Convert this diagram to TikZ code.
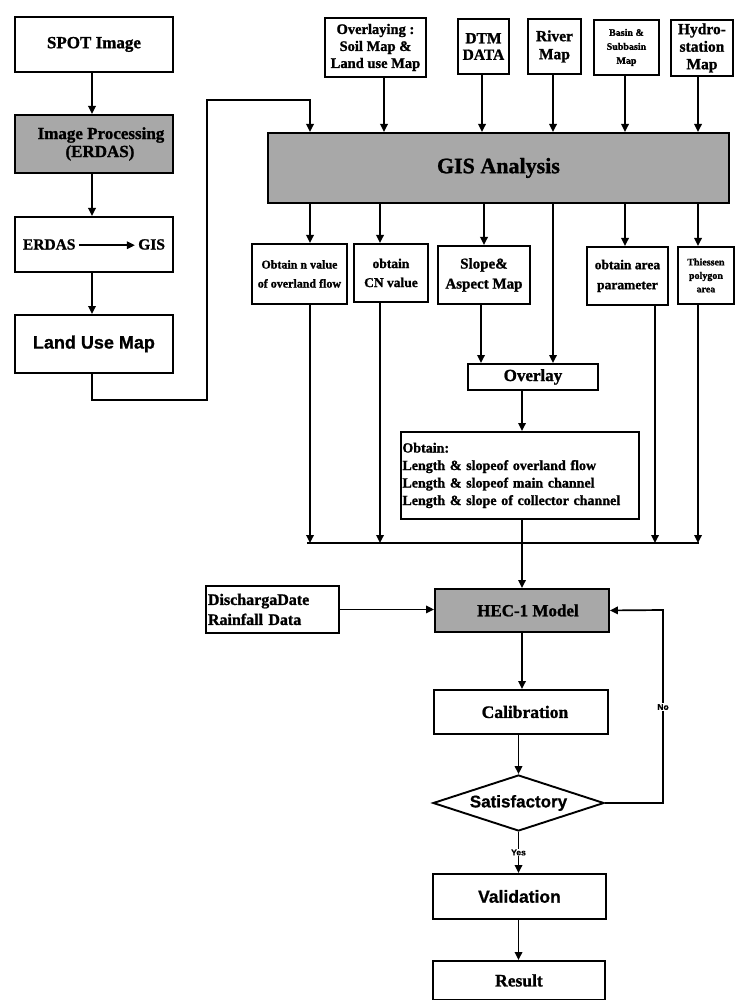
\documentclass[tikz,border=0pt]{standalone}
\usepackage{fontspec}
\setmainfont{Liberation Serif}[BoldFeatures={FakeBold=1.2}]
\newfontfamily\sansb{Liberation Sans}[BoldFeatures={FakeBold=0.8}]
\usetikzlibrary{arrows.meta,shapes.geometric}
\definecolor{shadegray}{RGB}{168,168,168}
\newcommand\fsz[2]{\fontsize{#1}{#2}\selectfont}
\begin{document}
\begin{tikzpicture}[x=1pt,y=-1pt,
  box/.style={draw, line width=1.9pt, inner sep=0pt, align=center, anchor=north west},
  shaded/.style={fill=shadegray},
  arr/.style={line width=1.7pt, -{Triangle[length=8pt,width=7.5pt]}},
  ln/.style={line width=1.7pt},
  lab/.style={fill=white, inner sep=1pt, font=\sansb\bfseries\fsz{8.5}{9}}]
\useasboundingbox (0,0) rectangle (739,1000);
\fill[white] (0,0) rectangle (739,1000);

% left column
\node[box, minimum width=158pt, minimum height=55pt, font=\bfseries\fsz{17}{19}] (spot) at (14,16) {SPOT Image};
\node[box, shaded, minimum width=158pt, minimum height=58pt, font=\bfseries\fsz{17}{18}] (improc) at (14,114) {\hspace*{14pt}Image Processing\\\hspace*{12pt}(ERDAS)};
\node[box, minimum width=158pt, minimum height=55pt, font=\bfseries\fsz{15.5}{18}] (erdas) at (14,216)
  {ERDAS\,\tikz[baseline=-0.6ex]\draw[line width=1.6pt,-{Triangle[length=8pt,width=7.5pt]}] (0pt,0pt)--(56pt,0pt);\,GIS};
\node[box, minimum width=158pt, minimum height=58pt, font=\sansb\bfseries\fsz{18}{20}] (landuse) at (14,314) {Land Use Map};

% top inputs
\node[box, minimum width=101pt, minimum height=59pt, font=\bfseries\fsz{14.5}{17}] (ovl) at (324,17) {Overlaying :\\Soil Map \&\\Land use Map};
\node[box, minimum width=51pt, minimum height=55pt, font=\bfseries\fsz{15.5}{16.5}] (dtm) at (457,18) {DTM\\DATA};
\node[box, minimum width=53pt, minimum height=55pt, font=\bfseries\fsz{15.5}{18}] (river) at (527,18) {River\\Map};
\node[box, minimum width=65pt, minimum height=55pt, font=\bfseries\fsz{10}{14}] (basin) at (593,19) {Basin \&\\Subbasin\\Map};
\node[box, minimum width=62pt, minimum height=56pt, font=\bfseries\fsz{15.5}{17.5}] (hydro) at (670,19) {Hydro-\\station\\Map};

% GIS
\node[box, shaded, minimum width=461pt, minimum height=70pt, font=\bfseries\fsz{22}{24}] (gis) at (267,132) {GIS Analysis};

% outputs
\node[box, minimum width=95pt, minimum height=60pt, font=\bfseries\fsz{12}{19}] (nval) at (251,243) {Obtain n value\\of overland flow};
\node[box, minimum width=74pt, minimum height=58pt, font=\bfseries\fsz{13.5}{19}] (cn) at (353,243) {obtain\\CN value};
\node[box, minimum width=92pt, minimum height=58pt, font=\bfseries\fsz{15}{20}] (slope) at (437,245) {Slope\&\\Aspect Map};
\node[box, minimum width=81pt, minimum height=58pt, font=\bfseries\fsz{13.5}{20}] (area) at (586,246) {obtain area\\parameter};
\node[box, minimum width=56pt, minimum height=57pt, font=\bfseries\fsz{10}{13.5}] (thiess) at (677,246) {Thiessen\\polygon\\area};

\node[box, minimum width=130pt, minimum height=26pt, font=\bfseries\fsz{17}{17}] (overlay) at (467,363) {Overlay};
\node[box, minimum width=238pt, minimum height=87pt, text width=235pt, inner xsep=1.5pt, align=left, font=\bfseries\fsz{14}{17.5}] (obtain) at (400,431)
  {Obtain:\\Length \& slopeof overland flow\\Length \& slopeof main channel\\Length \& slope of collector channel};

% lower part
\node[box, minimum width=132pt, minimum height=47pt, text width=129pt, inner xsep=2pt, align=left, font=\bfseries\fsz{16}{20}] (dis) at (205,585) {DischargaDate\\Rainfall Data};
\node[box, shaded, minimum width=174pt, minimum height=43pt, font=\bfseries\fsz{17}{19}] (hec) at (434,588) {\hspace*{12pt}HEC-1 Model};
\node[box, minimum width=174pt, minimum height=44pt, font=\bfseries\fsz{17.5}{19}] (cal) at (433,689) {\hspace*{8pt}Calibration};
\node[draw, line width=1.9pt, diamond, aspect=3, inner sep=0pt, minimum width=171pt, minimum height=56pt, font=\sansb\bfseries\fsz{17}{19}] (dia) at (518.5,803) {Satisfactory};
\node[box, minimum width=173pt, minimum height=45pt, font=\sansb\bfseries\fsz{17.5}{19}] (val) at (432,873) {Validation};
\node[box, minimum width=172pt, minimum height=39pt, font=\bfseries\fsz{17.5}{19}] (res) at (432,960) {Result};

% column coordinates
\coordinate (c1) at (92,0);
\coordinate (xl) at (310,0);
\coordinate (xcn) at (380,0);
\coordinate (xov) at (384,0);
\coordinate (xdtm) at (482,0);
\coordinate (xsl) at (484,0);
\coordinate (xslo) at (481,0);
\coordinate (xr) at (553,0);
\coordinate (xb) at (625,0);
\coordinate (xao) at (655,0);
\coordinate (xh) at (698,0);
\coordinate (xm) at (522,0);
\coordinate (lp1) at (207,400);
\coordinate (lp2) at (310,100);
\coordinate (bus) at (0,543);
\coordinate (busL) at (307,543);
\coordinate (busR) at (699,543);
\coordinate (noc) at (663,610);

% left column arrows
\draw[arr] (spot.south -| c1) -- (improc.north -| c1);
\draw[arr] (improc.south -| c1) -- (erdas.north -| c1);
\draw[arr] (erdas.south -| c1) -- (landuse.north -| c1);
\draw[arr] (landuse.south -| c1) |- (lp1) |- (lp2) -- (gis.north -| lp2);

% inputs to GIS
\draw[arr] (ovl.south -| xov) -- (gis.north -| xov);
\draw[arr] (dtm.south -| xdtm) -- (gis.north -| xdtm);
\draw[arr] (river.south -| xr) -- (gis.north -| xr);
\draw[arr] (basin.south -| xb) -- (gis.north -| xb);
\draw[arr] (hydro.south -| xh) -- (gis.north -| xh);

% outputs of GIS
\draw[arr] (gis.south -| xl) -- (nval.north -| xl);
\draw[arr] (gis.south -| xcn) -- (cn.north -| xcn);
\draw[arr] (gis.south -| xsl) -- (slope.north -| xsl);
\draw[arr] (gis.south -| xr) -- (overlay.north -| xr);
\draw[arr] (gis.south -| xb) -- (area.north -| xb);
\draw[arr] (gis.south -| xh) -- (thiess.north -| xh);

\draw[arr] (slope.south -| xslo) -- (overlay.north -| xslo);
\draw[arr] (overlay.south -| xm) -- (obtain.north -| xm);

% collector
\draw[ln] (busL) -- (busR);
\draw[arr] (nval.south -| xl) -- (xl |- bus);
\draw[arr] (cn.south -| xcn) -- (xcn |- bus);
\draw[arr] (area.south -| xao) -- (xao |- bus);
\draw[arr] (thiess.south -| xh) -- (xh |- bus);
\draw[arr] (obtain.south -| xm) -- (hec.north -| xm);

% model chain
\draw[arr] (dis.east) -- (dis.east -| hec.west);
\draw[arr] (hec.south -| xm) -- (cal.north -| xm);
\draw[arr] (cal.south -| dia.north) -- (dia.north);
\draw[arr] (dia.south) -- (val.north -| dia.south) node[lab, pos=0.5] (yes) {Yes};
\draw[arr] (val.south -| dia.south) -- (res.north -| dia.south);
\draw[arr] (dia.east) -| (noc) -- (hec.east);
\node[lab] (no) at (663,707) {No};
\end{tikzpicture}
\end{document}
